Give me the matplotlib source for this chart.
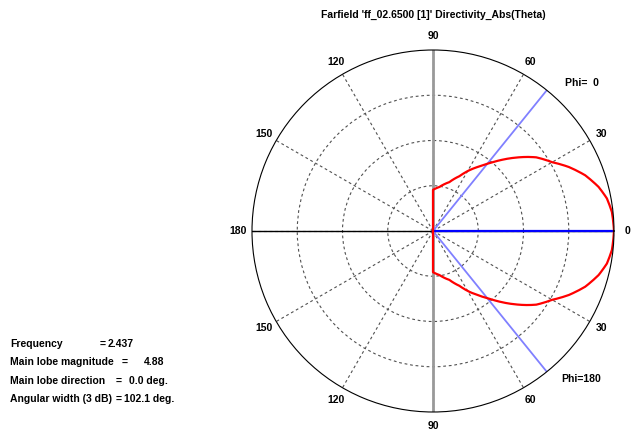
import numpy as np
import matplotlib
matplotlib.use('Agg')
import matplotlib.pyplot as plt

# Farfield cut, Phi=0 (upper half) and Phi=180 (lower half), linear directivity
theta_deg = [0, 6.1, 10.6, 14.9, 20.1, 25.2, 30.0, 35.5, 37.9, 41.6, 45.8,
             49.7, 54.4, 59.1, 64.3, 71.5, 81.7, 90]
directivity = [4.88, 4.85, 4.77, 4.62, 4.37, 4.05, 3.71, 3.42, 3.25, 2.98, 2.68,
               2.41, 2.14, 1.91, 1.64, 1.39, 1.20, 1.11]

main_lobe = 4.88
main_dir = 0.0
width_3db = 102.1
frequency = 2.437

tick_angles = [0, 30, 60, 90, 120, 150, 180, 210, 240, 270, 300, 330]
tick_labels = ['0', '30', '60', '90', '120', '150', '180', '150', '120', '90', '60', '30']

info_labels = ['Frequency', 'Main lobe magnitude', 'Main lobe direction', 'Angular width (3 dB)']
info_values = ['%.3f' % frequency, '%.2f' % main_lobe, '%.1f deg.' % main_dir,
               '%.1f deg.' % width_3db]

font = ['Liberation Sans', 'DejaVu Sans']
fs = 7.5

fig = plt.figure(figsize=(6.36, 4.33), dpi=100)
W, H = 636, 433
cx, cy, R = 433, 231, 181
ax = fig.add_axes([(cx - R) / W, (H - cy - R) / H, 2 * R / W, 2 * R / H], projection='polar')

rmax = main_lobe
ax.set_ylim(0, rmax)
ax.set_yticks([rmax / 4, rmax / 2, 3 * rmax / 4])
ax.set_yticklabels([])
ax.set_xticks(np.deg2rad(tick_angles))
ax.set_xticklabels(tick_labels, fontsize=fs, fontweight='bold', family=font)
ax.tick_params(axis='x', pad=3, length=0)
ax.grid(True, linestyle=(0, (2.5, 2.5)), color='#505050', linewidth=0.8)
ax.spines['polar'].set_color('black')
ax.spines['polar'].set_linewidth(0.8)

# axis cross
ax.plot([np.pi, np.pi], [rmax, 0], color='black', lw=1)
ax.plot([0, 0], [0, rmax], color='black', lw=1)
ax.plot([np.pi / 2, np.pi / 2], [0, rmax], color='#999999', lw=2)
ax.plot([-np.pi / 2, -np.pi / 2], [0, rmax], color='#999999', lw=2)

# 3 dB lines and main lobe direction
half = np.deg2rad(width_3db / 2)
ax.plot([half, half], [0, rmax], color='#8080ff', lw=1.3)
ax.plot([-half, -half], [0, rmax], color='#8080ff', lw=1.3)
ax.plot([np.deg2rad(main_dir)] * 2, [0, rmax], color='#0000ff', lw=1.6)

# pattern
th = np.array(theta_deg)
d = np.array(directivity)
ang = np.concatenate([[90], th[::-1], -th[1:], [-90]])
val = np.concatenate([[0], d[::-1], d[1:], [0]])
ln, = ax.plot(np.deg2rad(ang), val, color='red', lw=1.6)
ln.get_path()._interpolation_steps = 8  # draw segments as arcs in polar space

ax.text(np.deg2rad(45), rmax * 1.16, 'Phi=  0', ha='center', va='center',
        fontsize=fs, fontweight='bold', family=font, clip_on=False)
ax.text(np.deg2rad(-45), rmax * 1.16, 'Phi=180', ha='center', va='center',
        fontsize=fs, fontweight='bold', family=font, clip_on=False)

fig.text(cx / W, 1 - 15 / H, "Farfield 'ff_02.6500 [1]' Directivity_Abs(Theta)",
         ha='center', va='center', fontsize=fs, fontweight='bold', family=font)

info_y = [344, 362, 381, 399]
eq_x = [100, 122, 116, 116]
val_x = [108, 144, 129, 124]
for lab, v, y, ex, vx in zip(info_labels, info_values, info_y, eq_x, val_x):
    fig.text(10 / W, 1 - y / H, lab, ha='left', va='center', fontsize=fs,
             fontweight='bold', family=font)
    fig.text(ex / W, 1 - y / H, '=', ha='left', va='center', fontsize=fs,
             fontweight='bold', family=font)
    fig.text(vx / W, 1 - y / H, v, ha='left', va='center', fontsize=fs,
             fontweight='bold', family=font)

fig.savefig('out.png', dpi=100)
